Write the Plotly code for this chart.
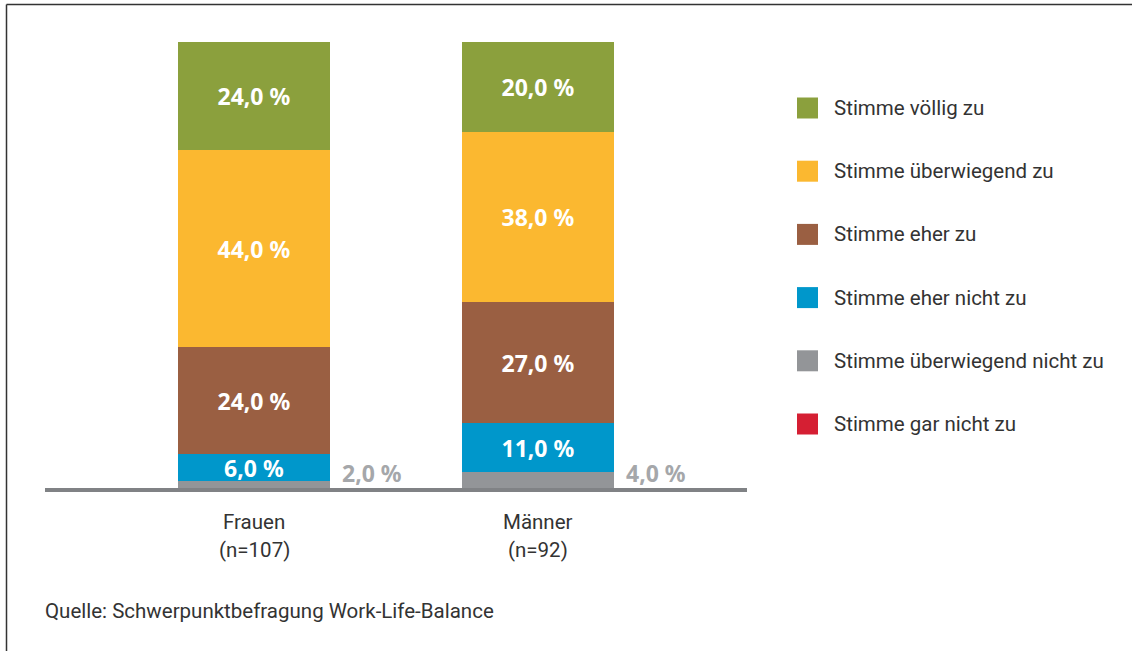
import plotly.graph_objects as go

categories = ["Frauen", "Männer"]
sample_sizes = ["(n=107)", "(n=92)"]

series_names = [
    "Stimme völlig zu",
    "Stimme überwiegend zu",
    "Stimme eher zu",
    "Stimme eher nicht zu",
    "Stimme überwiegend nicht zu",
    "Stimme gar nicht zu",
]
voellig_zu = [24.0, 20.0]
ueberwiegend_zu = [44.0, 38.0]
eher_zu = [24.0, 27.0]
eher_nicht_zu = [6.0, 11.0]
ueberwiegend_nicht_zu = [2.0, 4.0]
gar_nicht_zu = [0.0, 0.0]

series_values = [voellig_zu, ueberwiegend_zu, eher_zu, eher_nicht_zu,
                 ueberwiegend_nicht_zu, gar_nicht_zu]
series_colors = ["#8BA03D", "#FBB830", "#9A5F42", "#0097CB", "#939598", "#D51F33"]
label_inside = [True, True, True, True, False, False]

FONT = "Roboto, Noto Sans, sans-serif"
LABEL_FONT = "Noto Sans, Roboto, sans-serif"
TEXT_COLOR = "#333333"
TEXT_SIZE = 20.5
LABEL_SIZE = 23
BAR_WIDTH = 0.535
xpos = list(range(len(categories)))

fig = go.Figure()

# stack from bottom (last series) to top (first series)
for name, vals, col, inside in reversed(list(zip(series_names, series_values,
                                                  series_colors, label_inside))):
    fig.add_trace(go.Bar(
        x=xpos, y=vals, name=name, width=BAR_WIDTH,
        marker=dict(color=col, line=dict(width=0)),
        texttemplate="%{y:.1f} %" if inside else "",
        textposition="inside", insidetextanchor="middle",
        textfont=dict(family=LABEL_FONT, size=LABEL_SIZE, color="white", weight="bold"),
        constraintext="none", cliponaxis=False,
        showlegend=False, hoverinfo="skip",
    ))

# outside labels for the small grey segment
for xi, v in zip(xpos, ueberwiegend_nicht_zu):
    fig.add_annotation(
        x=xi + BAR_WIDTH / 2, y=3.8, xref="x", yref="y",
        text=f"{v:.1f} %".replace(".", ","), showarrow=False,
        xanchor="left", yanchor="middle", xshift=10,
        font=dict(family=LABEL_FONT, size=LABEL_SIZE, color="#A5A7AA", weight="bold"),
    )

plot_left, plot_right, plot_top, plot_bottom = 45, 747, 42, 490
pw, ph = plot_right - plot_left, plot_bottom - plot_top
def px_to_paper_x(px):
    return (px - plot_left) / pw
def px_to_paper_y(py):
    return (plot_bottom - py) / ph

# category labels
for xi, c, n in zip(xpos, categories, sample_sizes):
    fig.add_annotation(x=xi, y=px_to_paper_y(522), xref="x", yref="paper", text=c,
                       showarrow=False, xanchor="center", yanchor="middle",
                       font=dict(family=FONT, size=TEXT_SIZE, color=TEXT_COLOR))
    fig.add_annotation(x=xi, y=px_to_paper_y(550), xref="x", yref="paper", text=n,
                       showarrow=False, xanchor="center", yanchor="middle",
                       font=dict(family=FONT, size=TEXT_SIZE, color=TEXT_COLOR))

# custom legend
legend_y0, legend_dy = 108, 63.2
for i, (name, col) in enumerate(zip(series_names, series_colors)):
    cy = legend_y0 + i * legend_dy
    fig.add_shape(type="rect", xref="paper", yref="paper",
                  x0=px_to_paper_x(797), x1=px_to_paper_x(818),
                  y0=px_to_paper_y(cy - 10.5), y1=px_to_paper_y(cy + 10.5),
                  fillcolor=col, line=dict(width=0))
    fig.add_annotation(x=px_to_paper_x(832), y=px_to_paper_y(cy),
                       xref="paper", yref="paper", text=name, showarrow=False,
                       xanchor="left", yanchor="middle",
                       font=dict(family=FONT, size=TEXT_SIZE, color=TEXT_COLOR))

# baseline
fig.add_shape(type="line", xref="paper", yref="paper", x0=0, x1=1, y0=0, y1=0,
              line=dict(color="#808285", width=4))

# frame (top and left)
fig.add_shape(type="line", xref="paper", yref="paper",
              x0=px_to_paper_x(6.5), x1=px_to_paper_x(1140),
              y0=px_to_paper_y(4.5), y1=px_to_paper_y(4.5),
              line=dict(color="#333333", width=1.5))
fig.add_shape(type="line", xref="paper", yref="paper",
              x0=px_to_paper_x(6.5), x1=px_to_paper_x(6.5),
              y0=px_to_paper_y(4.5), y1=px_to_paper_y(660),
              line=dict(color="#333333", width=1.5))

# source
fig.add_annotation(x=px_to_paper_x(43), y=px_to_paper_y(611), xref="paper", yref="paper",
                   text="Quelle: Schwerpunktbefragung Work-Life-Balance", showarrow=False,
                   xanchor="left", yanchor="middle",
                   font=dict(family=FONT, size=TEXT_SIZE, color=TEXT_COLOR))

fig.update_layout(
    width=1132, height=651,
    margin=dict(l=plot_left, r=1132 - plot_right, t=plot_top, b=651 - plot_bottom),
    paper_bgcolor="white", plot_bgcolor="white",
    barmode="stack", bargap=0,
    separators=",.",
    showlegend=False,
    font=dict(family=FONT, size=TEXT_SIZE, color=TEXT_COLOR),
    xaxis=dict(range=[-0.736, 1.736], showticklabels=False, showgrid=False,
               zeroline=False, showline=False, ticks=""),
    yaxis=dict(range=[0, 100], visible=False, showgrid=False, zeroline=False),
)

fig.write_html("out.html", config={"displayModeBar": False},
               post_script="document.body.style.margin='0';document.body.style.padding='0';")
